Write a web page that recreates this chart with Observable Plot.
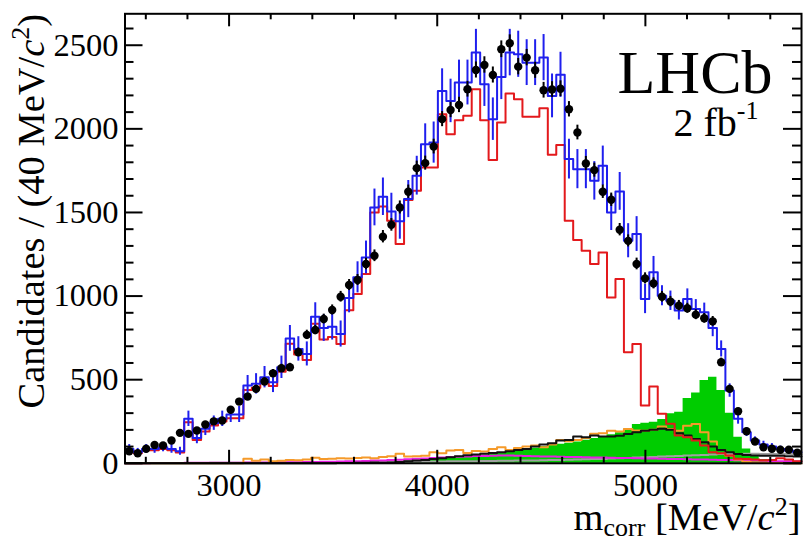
<!DOCTYPE html>
<html><head><meta charset="utf-8">
<script src="https://cdn.jsdelivr.net/npm/d3@7"></script>
<script src="https://cdn.jsdelivr.net/npm/@observablehq/plot@0.6"></script>
<style>html,body{margin:0;padding:0;background:#fff}#chart{width:803px;height:542px;overflow:hidden}</style>
</head><body><div id="chart"></div>
<script>
// histogram range and binning (80 bins)
const xLo = 2500, xHi = 5750, nBins = 80, yMax = 2688;

const dataVals = [72,60,87,110,106,136,182,176,196,232,
 251,256,320,369,399,445,489,538,568,574,
 664,768,797,863,917,996,1066,1096,1192,1241,
 1355,1426,1530,1624,1765,1795,1894,2058,2113,2143,
 2237,2352,2382,2322,2476,2512,2372,2426,2350,2231,
 2235,2240,2117,1978,1793,1753,1624,1576,1397,1330,
 1192,1106,1076,996,967,943,927,889,867,849,
 604,445,311,192,130,96,87,81,81,63];
const dataErr = [8,8,9,10,10,12,13,13,14,15,
 16,16,18,19,20,21,22,23,24,24,
 26,28,28,29,30,32,33,33,35,35,
 37,38,39,40,42,42,44,45,46,46,
 47,48,49,48,50,50,49,49,48,47,
 47,47,46,44,42,42,40,40,37,36,
 35,33,33,32,31,31,30,30,29,29,
 25,21,18,14,11,10,9,9,9,8];
const totalFit = [86,66,86,86,96,86,72,266,152,206,
 240,266,292,292,465,475,515,485,574,747,
 684,654,877,809,817,773,988,1112,1231,1530,
 1594,1506,1447,1580,1720,1908,1918,2227,2167,2277,
 2277,2456,2267,2058,2310,2456,2446,2396,2396,2426,
 2197,2323,1819,1759,1759,1689,1779,1500,1626,1331,
 1371,983,1142,1002,972,913,983,923,903,809,
 684,435,266,186,136,112,100,86,76,66];
const totalErr = [26,23,26,26,27,26,24,46,35,40,
 43,46,48,48,60,61,64,62,67,77,
 73,72,83,80,80,78,88,93,98,110,
 112,109,107,111,116,122,123,132,130,134,
 134,139,133,127,135,139,138,137,137,138,
 131,135,119,117,117,115,118,108,113,102,
 104,88,95,60,58,56,60,56,55,52,
 48,40,32,26,22,20,18,17,16,15];
const signal = [76,60,78,78,86,78,64,246,140,190,
 226,250,270,270,438,452,490,462,548,715,
 650,618,835,740,755,714,915,1012,1132,1500,
 1536,1450,1311,1574,1630,1769,1769,2087,1968,2052,
 2078,2237,2052,1813,2038,2211,2177,2072,2072,2123,
 1845,1904,1450,1335,1271,1192,1261,992,1102,664,
 714,345,460,296,236,166,156,136,106,66,
 60,46,27,25,22,18,20,30,22,12];
const greenBkg = [0,0,0,0,0,0,0,0,0,0,
 0,0,0,0,0,0,0,0,1,1,
 1,2,2,3,3,4,4,5,6,7,
 8,10,12,14,16,18,21,24,28,33,
 38,42,48,54,60,66,74,82,90,100,
 108,114,120,128,138,148,158,170,182,205,
 232,240,246,262,296,305,388,420,495,515,
 435,300,156,86,40,22,12,8,5,3];
const orangeBkg = [0,0,0,0,0,0,0,0,0,0,
 0,0,0,0,27,15,23,12,15,20,
 18,22,33,25,27,30,28,32,35,30,
 38,42,57,40,42,45,66,60,76,80,
 62,73,70,86,96,80,92,100,106,96,
 113,140,132,140,152,176,180,195,190,205,
 196,195,200,220,205,195,225,235,185,130,
 80,45,22,10,5,3,2,2,1,1];
const blackBkg = [0,0,0,0,0,0,0,0,0,0,
 0,0,0,0,0,0,0,0,0,0,
 0,0,0,1,1,2,2,3,4,5,
 3,5,8,12,16,20,25,30,36,42,
 48,53,57,62,66,72,80,86,100,113,
 120,136,140,160,156,166,160,160,165,175,
 186,195,200,206,200,180,166,146,126,100,
 80,66,56,50,46,45,45,45,42,40];
const grayBkg = [2,2,2,2,2,2,2,2,2,2,
 3,3,3,3,3,3,3,3,4,4,
 4,4,5,5,5,6,6,6,7,7,
 8,8,9,9,10,10,11,11,12,12,
 13,13,14,14,15,15,16,17,17,18,
 19,20,21,22,24,25,26,28,30,32,
 34,36,37,40,42,44,46,48,50,53,
 56,56,55,57,57,56,56,55,55,54];
const magentaBkg = [1,1,1,2,2,2,2,3,3,3,
 3,4,4,4,5,5,5,6,6,7,
 7,8,8,9,10,11,12,13,14,16,
 17,19,21,24,27,29,31,34,37,39,
 41,43,44,45,46,46,45,44,42,40,
 40,39,38,37,36,35,34,33,32,31,
 30,29,28,27,26,25,24,23,22,21,
 20,19,18,17,16,15,14,13,12,11];

const xMajor = [3000,4000,5000];
const xMinor = [2600,2800,3200,3400,3600,3800,4200,4400,4600,4800,5200,5400,5600];
const yMajor = [0,500,1000,1500,2000,2500];
const yMinor = [100,200,300,400,600,700,800,900,1100,1200,1300,1400,1600,1700,1800,1900,2100,2200,2300,2400,2600];

const binW = (xHi - xLo) / nBins;
const bins = dataVals.map((v, i) => ({i, lo: xLo + i*binW, hi: xLo + (i+1)*binW, c: xLo + (i+0.5)*binW}));
const steps = vals => bins.map(b => ({x: b.lo, y: vals[b.i]})).concat([{x: xHi, y: vals[vals.length-1]}]);
const pts = (vals, errs) => bins.map(b => ({x: b.c, y: vals[b.i], e: errs[b.i]}));

const W = 803, H = 542, mL = 124.5, mR = 2, mT = 13.3, mB = 79.2;
const iW = W - mL - mR, iH = H - mT - mB;
const font = "Liberation Serif, Times New Roman, serif";
const lbl = 32.5, ttl = 38.5;

const stepLine = (vals, color, sw = 2) => Plot.line(steps(vals), {x: "x", y: "y", curve: "step-after", stroke: color, strokeWidth: sw, fill: "none"});

const plot = Plot.plot({
  width: W, height: H, marginLeft: mL, marginRight: mR, marginTop: mT, marginBottom: mB,
  x: {domain: [xLo, xHi], axis: null},
  y: {domain: [0, yMax], axis: null},
  style: {background: "white", fontFamily: font, overflow: "visible"},
  marks: [
    Plot.areaY(steps(greenBkg), {x: "x", y1: 0, y2: "y", curve: "step-after", fill: "#00cc00"}),
    stepLine(grayBkg, "#a0a0a0"),
    stepLine(magentaBkg, "#e61ee0"),
    stepLine(orangeBkg, "#f59a2a"),
    stepLine(blackBkg, "#111111"),
    stepLine(signal, "#e3191c"),
    stepLine(totalFit, "#1f1fee"),
    Plot.ruleX(pts(totalFit, totalErr), {x: "x", y1: d => d.y - d.e, y2: d => d.y + d.e, stroke: "#1f1fee", strokeWidth: 2}),
    Plot.ruleX(pts(dataVals, dataErr), {x: "x", y1: d => d.y - d.e, y2: d => d.y + d.e, stroke: "black", strokeWidth: 2}),
    Plot.dot(pts(dataVals, dataErr), {x: "x", y: "y", r: 4.2, fill: "black", stroke: "none"}),
    // ticks (inside frame)
    Plot.tickY(yMajor, {y: d => d, insetRight: iW - 18, stroke: "black", strokeWidth: 2}),
    Plot.tickY(yMinor, {y: d => d, insetRight: iW - 9, stroke: "black", strokeWidth: 2}),
    Plot.tickY(yMajor, {y: d => d, insetLeft: iW - 18, stroke: "black", strokeWidth: 2}),
    Plot.tickY(yMinor, {y: d => d, insetLeft: iW - 9, stroke: "black", strokeWidth: 2}),
    Plot.tickX(xMajor, {x: d => d, insetTop: iH - 13, stroke: "black", strokeWidth: 2}),
    Plot.tickX(xMinor, {x: d => d, insetTop: iH - 6, stroke: "black", strokeWidth: 2}),
    Plot.tickX(xMajor, {x: d => d, insetBottom: iH - 13, stroke: "black", strokeWidth: 2}),
    Plot.tickX(xMinor, {x: d => d, insetBottom: iH - 6, stroke: "black", strokeWidth: 2}),
    Plot.frame({stroke: "black", strokeWidth: 2}),
    // tick labels
    Plot.text(yMajor, {y: d => d, text: d => String(d), frameAnchor: "left", textAnchor: "end", lineAnchor: "middle", dx: -6.5, fontSize: lbl, fontFamily: font, fill: "black"}),
    Plot.text(xMajor, {x: d => d, text: d => String(d), frameAnchor: "bottom", textAnchor: "middle", lineAnchor: "top", dy: 10, fontSize: lbl, fontFamily: font, fill: "black"}),
    // titles
    Plot.text(["__XT__"], {frameAnchor: "bottom-right", textAnchor: "end", lineAnchor: "bottom", dx: -1, dy: 67, fontSize: ttl, fontFamily: font, fill: "black"}),
    Plot.text(["__YT__"], {frameAnchor: "top-left", textAnchor: "end", lineAnchor: "bottom", rotate: -90, dx: -81.5, dy: 0, fontSize: ttl, fontFamily: font, fill: "black"}),
    Plot.text(["LHCb"], {frameAnchor: "top-right", textAnchor: "end", lineAnchor: "bottom", dx: -29, dy: 78.7, fontSize: 62, fontFamily: font, fill: "black"}),
    Plot.text(["__LUMI__"], {frameAnchor: "top-right", textAnchor: "end", lineAnchor: "bottom", dx: -43, dy: 122, fontSize: 40, fontFamily: font, fill: "black"})
  ]
});

plot.querySelectorAll("text").forEach(t => {
  const s = t.textContent;
  if (s === "__XT__") t.innerHTML = 'm<tspan font-size="26" dy="6">corr</tspan><tspan dy="-6"> [MeV/</tspan><tspan font-style="italic">c</tspan><tspan font-size="26" dy="-15">2</tspan><tspan dy="15">]</tspan>';
  else if (s === "__YT__") t.innerHTML = 'Candidates / (40 MeV/<tspan font-style="italic">c</tspan><tspan font-size="26" dy="-15">2</tspan><tspan dy="15">)</tspan>';
  else if (s === "__LUMI__") t.innerHTML = '2 fb<tspan font-size="26" dy="-17">-1</tspan>';
});

document.getElementById("chart").appendChild(plot);
</script>
</body></html>
